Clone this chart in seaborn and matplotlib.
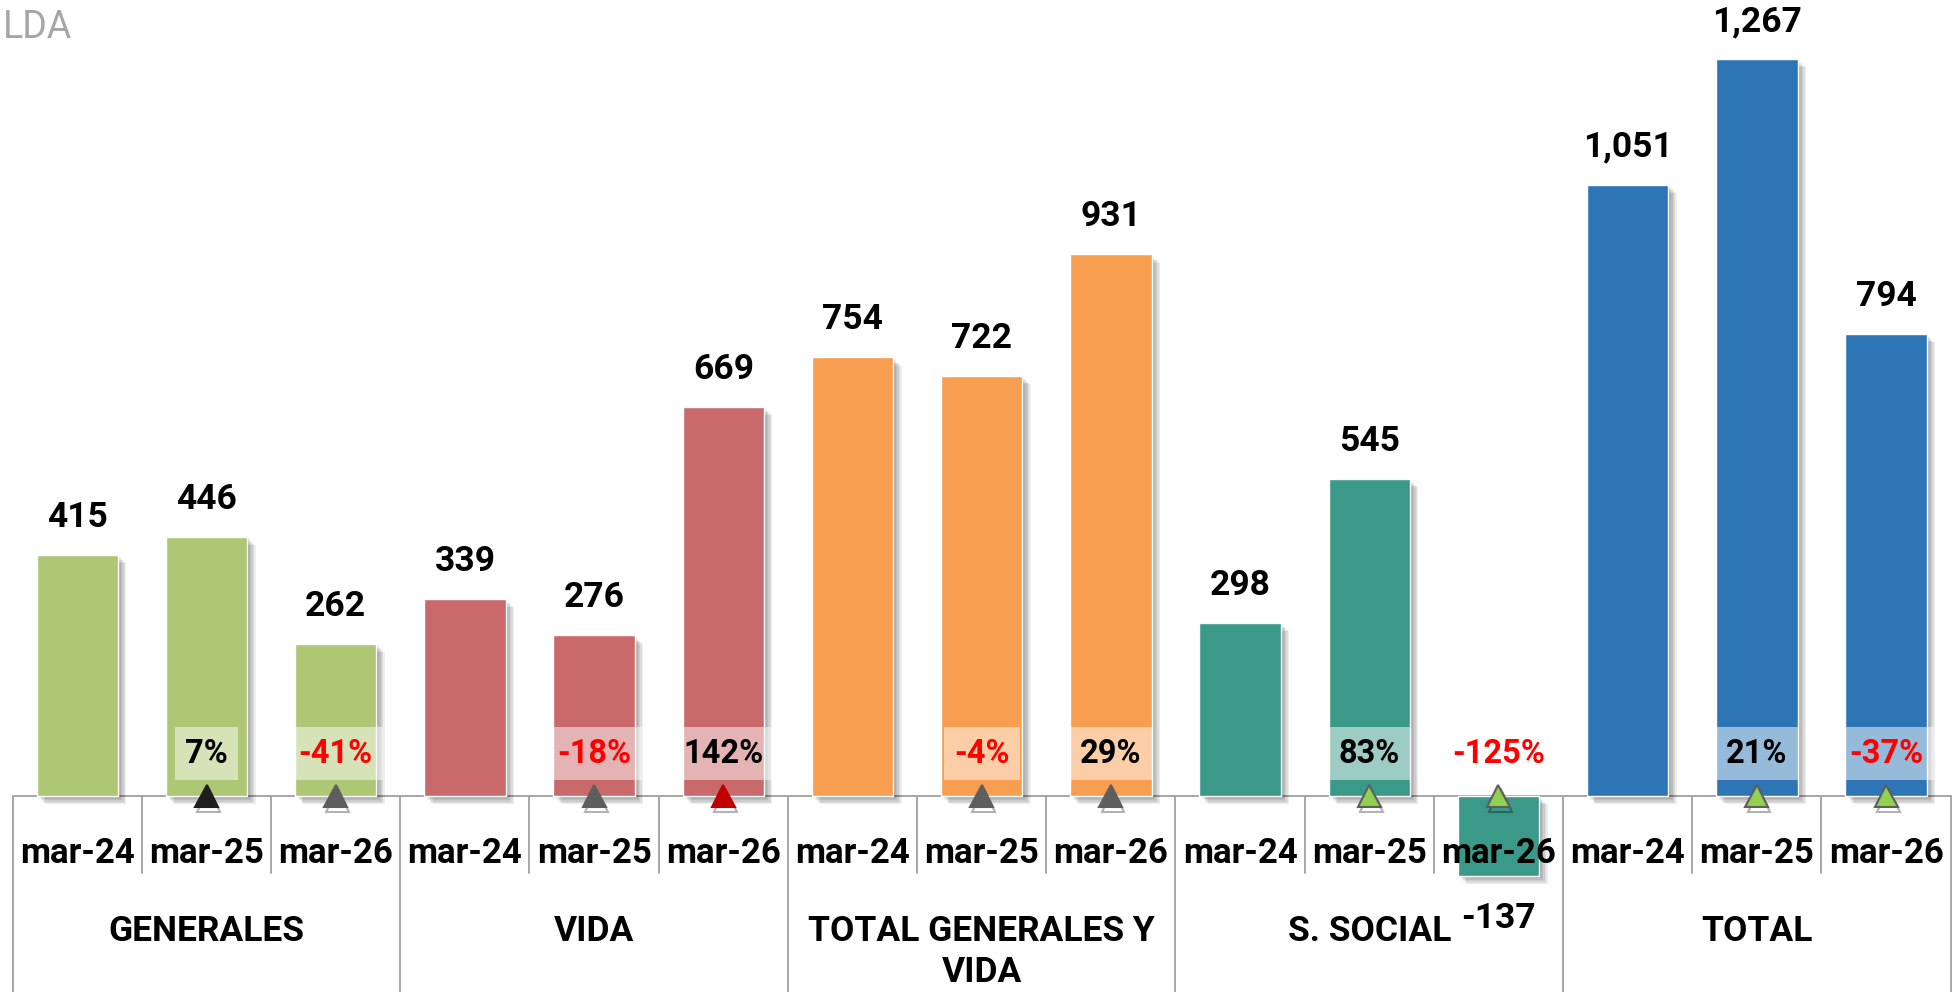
import matplotlib
matplotlib.use("Agg")
import matplotlib.pyplot as plt
import matplotlib.patheffects as pe
import matplotlib.transforms as mtransforms
import pandas as pd
import seaborn as sns

# datos
groups = ["GENERALES", "VIDA", "TOTAL GENERALES Y\nVIDA", "S. SOCIAL", "TOTAL"]
months = ["mar-24", "mar-25", "mar-26"]
values = [415, 446, 262,
          339, 276, 669,
          754, 722, 931,
          298, 545, -137,
          1051, 1267, 794]
pct_labels = ["", "7%", "-41%",
              "", "-18%", "142%",
              "", "-4%", "29%",
              "", "83%", "-125%",
              "", "21%", "-37%"]
arrows = [None, "black", "gray",
          None, "gray", "red",
          None, "gray", "gray",
          None, "green", "green",
          None, "green", "green"]

group_colors = ["#ADC774", "#C9696B", "#F79E51", "#3A9989", "#2E75B6"]
arrow_colors = {"black": ("#1E1E1E", "#1E1E1E"), "gray": ("#5E5E5E", "#5E5E5E"),
                "red": ("#C00000", "#C00000"), "green": ("#92D050", "#5E5E5E")}

keys, grp = [], []
for g in groups:
    for m in months:
        keys.append(g + "|" + m)
        grp.append(g)
df = pd.DataFrame({"key": keys, "valor": values, "grupo": grp})

sns.set_style("white")
plt.rcParams["font.family"] = ["Roboto", "DejaVu Sans"]

fig = plt.figure(figsize=(19.52, 9.92), dpi=100)
ax = fig.add_axes([12.7 / 1952, 0, 1938 / 1952, 1])

sns.barplot(data=df, x="key", y="valor", hue="grupo", order=keys, hue_order=groups,
            palette=dict(zip(groups, group_colors)), dodge=False, width=0.63,
            saturation=1, legend=False, ax=ax, zorder=2)

# sombra difusa
shadow = [pe.SimplePatchShadow(offset=(o, -o), shadow_rgbFace="black", alpha=0.07) for o in (1, 2, 3, 4, 5, 6)]
for p in ax.patches:
    p.set_path_effects(shadow + [pe.Normal()])

ax.set_xlim(-0.5, 14.5)
ax.set_ylim(-336.9, 1368.4)
ax.set_axis_off()

trans = mtransforms.blended_transform_factory(ax.transData, ax.transAxes)
line_kw = dict(color="#A6A6A6", lw=1.4, zorder=1, clip_on=False)

# tabla del eje de categorias
ax.axhline(0, **line_kw)
for i in range(16):
    x = i - 0.5
    if i % 3 == 0:
        ax.plot([x, x], [0, 196 / 992], transform=trans, **line_kw)
    else:
        ax.plot([x, x], [119 / 992, 196 / 992], transform=trans, **line_kw)

for i, k in enumerate(keys):
    ax.text(i, (992 - 863) / 992, k.split("|")[1], transform=trans, ha="center", va="baseline",
            fontsize=25, fontweight="bold", color="black", zorder=6)

for j, g in enumerate(groups):
    for n, line in enumerate(g.split("\n")):
        ax.text(3 * j + 1, (992 - 941 - 41 * n) / 992, line, transform=trans, ha="center",
                va="baseline", fontsize=25.5, fontweight="bold", color="black", zorder=6)

# etiquetas de valor
for i, v in enumerate(values):
    off = 27 if v >= 0 else -31
    ax.annotate(f"{v:,}", (i, v), xytext=(0, off), textcoords="offset points",
                ha="center", va="center", fontsize=25.5, fontweight="bold", color="black", zorder=6)

# variaciones
for i, t in enumerate(pct_labels):
    if not t:
        continue
    col = "#FF0000" if t.startswith("-") else "black"
    ax.annotate(t, (i, 0), xytext=(0, 30.5), textcoords="offset points", ha="center", va="center",
                fontsize=23.5, fontweight="bold", color=col, zorder=5,
                bbox=dict(boxstyle="square,pad=0.32", fc="white", ec="none", alpha=0.5))

for i, a in enumerate(arrows):
    if a is None:
        continue
    fc, ec = arrow_colors[a]
    ax.plot([i], [0], marker="^", markersize=16.5, markerfacecolor=fc, markeredgecolor=ec,
            markeredgewidth=1.5, linestyle="none", zorder=7, clip_on=False,
            path_effects=[pe.SimpleLineShadow(offset=(1.5, -3), alpha=0.3, shadow_color="black"), pe.Normal()])

fig.text(2.7 / 1952, (992 - 38) / 992, "LDA", ha="left", va="baseline", fontsize=27, color="#A6A6A6")

fig.savefig("out.png", dpi=100)
